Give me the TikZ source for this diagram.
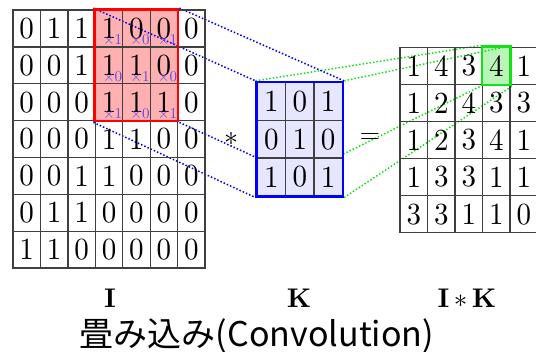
\documentclass[tikz,border=0pt]{standalone}
\usepackage{fix-cm}
\usepackage{graphicx}
\usepackage{fontspec}
\newfontfamily\jpfont{Noto Sans CJK JP}
\newfontfamily\cellfont{lmroman10-regular}[Extension=.otf, BoldFont=lmroman10-bold]
\usetikzlibrary{fit,backgrounds}
\definecolor{mulblue}{RGB}{100,70,240}
\definecolor{winfill}{RGB}{255,176,176}
\definecolor{kerfill}{RGB}{230,230,255}
\definecolor{grnline}{RGB}{20,225,20}
\definecolor{grnfill}{RGB}{185,245,185}
% cell entries, a little taller than wide
\newcommand\cellnum[1]{\scalebox{1}[1.06]{#1}}
\begin{document}
\begin{tikzpicture}[x=1pt,y=-1pt,
  cellbox/.style={draw=black!75, line width=1.3pt, inner sep=0pt,
    font=\cellfont\fontsize{29}{29}\selectfont},
  mult/.style={font=\cellfont\fontsize{15}{15}\selectfont, text=mulblue, inner sep=0pt},
  winbox/.style={draw=red, line width=2.4pt, inner sep=0pt},
  kerbox/.style={draw=blue, line width=2.4pt, inner sep=0pt},
  grnbox/.style={draw=grnline, line width=2.4pt, inner sep=0pt},
  blueconn/.style={blue, dotted, line width=1.5pt},
  greenconn/.style={grnline, dotted, line width=1.5pt},
  oplabel/.style={font=\fontsize{28}{28}\selectfont, inner sep=0pt},
  varlabel/.style={font=\cellfont\fontsize{27}{27}\selectfont\bfseries, inner sep=0pt}]
\clip (0,0) rectangle (536,352);

% input image I (7x7)
\def\icw{27.43}\def\ich{36.86}
\foreach \row [count=\r from 0] in {{0,1,1,1,0,0,0},{0,0,1,1,1,0,0},{0,0,0,1,1,1,0},
    {0,0,0,1,1,0,0},{0,0,1,1,0,0,0},{0,1,1,0,0,0,0},{1,1,0,0,0,0,0}}
  \foreach \v [count=\c from 0] in \row
    \node[cellbox, minimum width=\icw pt, minimum height=\ich pt] (in-\r-\c)
      at ({13+(\c+0.5)*\icw},{10+(\r+0.5)*\ich}) {\cellnum{\v}};

% window over I, with the kernel weights
\node[winbox, fit=(in-0-3)(in-2-5)] (win) {};
\foreach \w [count=\k from 0] in {1,0,1,0,1,0,1,0,1} {
  \pgfmathtruncatemacro\wr{int(\k/3)}
  \pgfmathtruncatemacro\wc{3+mod(\k,3)}
  \node[mult, anchor=south east] (w-\k) at ([xshift=-1pt,yshift=2.5pt]in-\wr-\wc.south east) {×\w};
}

% output I*K (5x5)
\def\ocw{27.5}\def\och{37.07}
\foreach \row [count=\r from 0] in {{1,4,3,4,1},{1,2,4,3,3},{1,2,3,4,1},{1,3,3,1,1},{3,3,1,1,0}}
  \foreach \v [count=\c from 0] in \row
    \node[cellbox, minimum width=\ocw pt, minimum height=\och pt] (out-\r-\c)
      at ({400+(\c+0.5)*\ocw},{47.3+(\r+0.5)*\och}) {\cellnum{\v}};
\node[grnbox, fit=(out-0-3)] (grn) {};

% kernel K (3x3)
\def\kcw{28.33}\def\kch{37.67}
\foreach \row [count=\r from 0] in {{1,0,1},{0,1,0},{1,0,1}}
  \foreach \v [count=\c from 0] in \row
    \node[cellbox, fill=kerfill, minimum width=\kcw pt, minimum height=\kch pt] (k-\r-\c)
      at ({257.3+(\c+0.5)*\kcw},{82.7+(\r+0.5)*\kch}) {\cellnum{\v}};
\node[kerbox, fit=(k-0-0)(k-2-2)] (ker) {};

% highlight fills and projection lines, under the grids
\begin{scope}[on background layer]
  \fill[winfill] (win.north west) rectangle (win.south east);
  \fill[grnfill] (grn.north west) rectangle (grn.south east);
  \foreach \a in {north west,north east,south west,south east} {
    \draw[blueconn] (win.\a) -- (ker.\a);
    \draw[greenconn] (ker.\a) -- (grn.\a);
  }
\end{scope}

% operators and names
\node[oplabel] (star) at (231,139) {$*$};
\node[oplabel] (eq) at (370,139) {$=$};
\node[varlabel] (nameI) at (110,298) {I};
\node[varlabel] (nameK) at (299,298) {K};
\node[varlabel] (nameIK) at (467,298) {I\,$\ast$\,K};
\node[font=\jpfont\fontsize{34}{34}\selectfont, inner sep=0pt] (caption) at (257,336)
  {畳み込み(Convolution)};
\end{tikzpicture}
\end{document}
